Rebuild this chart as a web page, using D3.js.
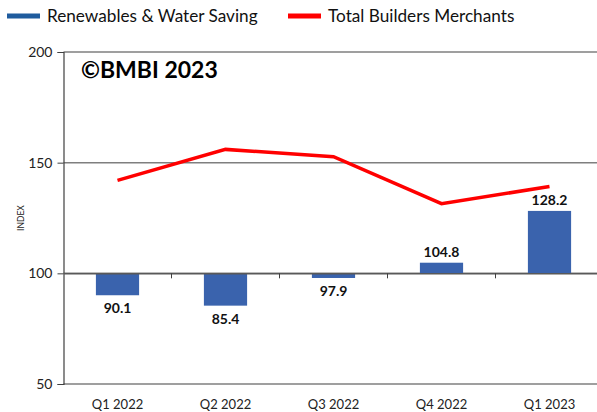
<!DOCTYPE html>
<html>
<head>
<meta charset="utf-8">
<script src="https://cdn.jsdelivr.net/npm/d3@7"></script>
<style>
  body { margin: 0; background: #fff; }
  svg { font-family: Lato, "Open Sans", sans-serif; }
</style>
</head>
<body>
<div id="chart"></div>
<script>
// data
var quarters = ["Q1 2022", "Q2 2022", "Q3 2022", "Q4 2022", "Q1 2023"];
var renewables = [90.1, 85.4, 97.9, 104.8, 128.2];
var totalMerchants = [142, 156, 152.7, 131.5, 139.2];
var yTicks = [50, 100, 150, 200];

var width = 597, height = 412;
var margin = { top: 52, left: 63.5, bottom: 384 };

var svg = d3.select("#chart").append("svg")
    .attr("width", width)
    .attr("height", height);

var x = d3.scaleBand()
    .domain(quarters)
    .range([margin.left, margin.left + 540]);

var y = d3.scaleLinear()
    .domain([50, 200])
    .range([margin.bottom, margin.top]);

// gridlines
svg.append("g").selectAll("line").data(yTicks)
    .enter().append("line")
    .attr("x1", margin.left)
    .attr("x2", width)
    .attr("y1", d => y(d))
    .attr("y2", d => y(d))
    .attr("stroke", "#7f7f7f")
    .attr("stroke-width", 1.5);

// y axis
var yAxis = d3.axisLeft(y)
    .tickValues(yTicks)
    .tickSize(6)
    .tickPadding(5);

var yAxisG = svg.append("g")
    .attr("transform", "translate(" + margin.left + ",0)")
    .call(yAxis);
yAxisG.select(".domain").attr("stroke", "#404040").attr("stroke-width", 1.2);
yAxisG.selectAll(".tick line").attr("stroke", "#404040");
yAxisG.selectAll("text")
    .attr("font-size", 14)
    .attr("fill", "#222")
    .attr("font-family", "Lato, sans-serif");

svg.append("text")
    .attr("transform", "translate(24," + y(125) + ") rotate(-90)")
    .attr("text-anchor", "middle")
    .attr("font-size", 8.5)
    .attr("fill", "#222")
    .text("INDEX");

// bars from the 100 baseline
var barW = x.bandwidth() * 0.4;
svg.append("g").selectAll("rect").data(renewables)
    .enter().append("rect")
    .attr("x", (d, i) => x(quarters[i]) + (x.bandwidth() - barW) / 2)
    .attr("y", d => y(Math.max(d, 100)))
    .attr("width", barW)
    .attr("height", d => Math.abs(y(d) - y(100)))
    .attr("fill", "#3a63ad");

// category axis sits on 100
var xAxisG = svg.append("g")
    .attr("transform", "translate(0," + y(100) + ")")
    .call(d3.axisBottom(x).tickSize(0).tickFormat(""));
xAxisG.select(".domain").attr("stroke", "#595959").attr("stroke-width", 1.5);

svg.append("g").selectAll("line").data(quarters.slice(1))
    .enter().append("line")
    .attr("x1", d => x(d))
    .attr("x2", d => x(d))
    .attr("y1", y(100))
    .attr("y2", y(100) + 5)
    .attr("stroke", "#404040");

// bar labels
svg.append("g").selectAll("text").data(renewables)
    .enter().append("text")
    .attr("x", (d, i) => x(quarters[i]) + x.bandwidth() / 2)
    .attr("y", d => d < 100 ? y(d) + 18 : y(d) - 6)
    .attr("text-anchor", "middle")
    .attr("font-size", 14)
    .attr("font-weight", "bold")
    .attr("fill", "#111")
    .text(d => d.toFixed(1));

// line series
var line = d3.line()
    .x((d, i) => x(quarters[i]) + x.bandwidth() / 2)
    .y(d => y(d));

svg.append("path")
    .datum(totalMerchants)
    .attr("d", line)
    .attr("fill", "none")
    .attr("stroke", "#ff0000")
    .attr("stroke-width", 3.5);

// quarter labels under plot
svg.append("g").selectAll("text").data(quarters)
    .enter().append("text")
    .attr("x", d => x(d) + x.bandwidth() / 2)
    .attr("y", 409)
    .attr("text-anchor", "middle")
    .attr("font-size", 13)
    .attr("fill", "#222")
    .text(d => d);

// title
svg.append("text")
    .attr("x", 81)
    .attr("y", 78)
    .attr("font-size", 23)
    .attr("font-weight", "bold")
    .attr("fill", "#000")
    .text("\u00a9BMBI 2023");

// legend
var legend = [
    { name: "Renewables & Water Saving", color: "#1f5c9e", x: 7 },
    { name: "Total Builders Merchants", color: "#ff0000", x: 288 }
];
var lg = svg.append("g").selectAll("g").data(legend)
    .enter().append("g")
    .attr("transform", d => "translate(" + d.x + ",16)");
lg.append("line")
    .attr("x1", 0).attr("x2", 33)
    .attr("stroke", d => d.color)
    .attr("stroke-width", 5);
lg.append("text")
    .attr("x", 40)
    .attr("y", 6)
    .attr("font-size", 17.2)
    .attr("fill", "#111")
    .text(d => d.name);
</script>
</body>
</html>
